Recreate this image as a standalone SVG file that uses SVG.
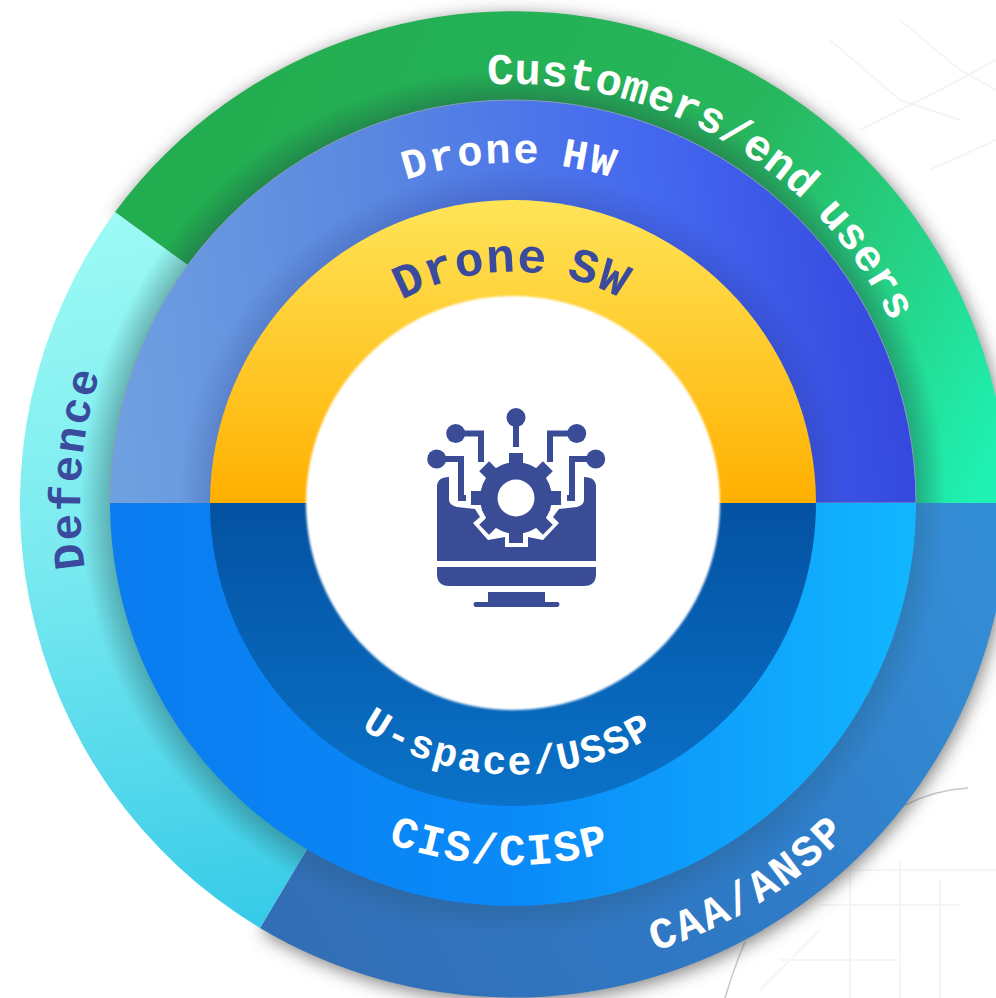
<svg xmlns="http://www.w3.org/2000/svg" width="996" height="998" viewBox="0 0 996 998">
<style>
.lbl{font-family:"Liberation Mono","Courier New",monospace;font-weight:700}
.w{fill:#ffffff}
.n{fill:#3a4a9c}
.ic{fill:#3a4c96}
.wire{fill:none;stroke:#3a4c96;stroke-width:6}
.bg{fill:none;stroke:#f5f5f5;stroke-width:2}
</style>
<defs>
<filter id="soft" x="-20%" y="-20%" width="140%" height="140%"><feGaussianBlur stdDeviation="9"/></filter>
<filter id="edge" x="-5%" y="-5%" width="110%" height="110%"><feGaussianBlur stdDeviation="1"/></filter>
<linearGradient id="gGreen" gradientUnits="userSpaceOnUse" x1="250" y1="100" x2="990" y2="480">
<stop offset="0" stop-color="#22ad50"/><stop offset=".55" stop-color="#27b65c"/><stop offset=".8" stop-color="#25d488"/><stop offset="1" stop-color="#1ff2b4"/></linearGradient>
<linearGradient id="gDef" gradientUnits="userSpaceOnUse" x1="100" y1="220" x2="240" y2="920">
<stop offset="0" stop-color="#9cfaf4"/><stop offset=".45" stop-color="#7aeaf0"/><stop offset="1" stop-color="#38cbe8"/></linearGradient>
<linearGradient id="gCaa" gradientUnits="userSpaceOnUse" x1="300" y1="950" x2="980" y2="560">
<stop offset="0" stop-color="#326eb6"/><stop offset=".6" stop-color="#2f7cc8"/><stop offset="1" stop-color="#348ed6"/></linearGradient>
<linearGradient id="gHw" gradientUnits="userSpaceOnUse" x1="110" y1="400" x2="916" y2="300">
<stop offset="0" stop-color="#6fa0e0"/><stop offset=".35" stop-color="#5a88e0"/><stop offset=".7" stop-color="#4468f0"/><stop offset="1" stop-color="#3345dc"/></linearGradient>
<linearGradient id="gCis" gradientUnits="userSpaceOnUse" x1="110" y1="600" x2="916" y2="600">
<stop offset="0" stop-color="#0a7cf0"/><stop offset=".5" stop-color="#0a8af8"/><stop offset="1" stop-color="#12b6ff"/></linearGradient>
<linearGradient id="gSw" gradientUnits="userSpaceOnUse" x1="0" y1="200" x2="0" y2="503">
<stop offset="0" stop-color="#ffe458"/><stop offset="1" stop-color="#ffb000"/></linearGradient>
<linearGradient id="gUs" gradientUnits="userSpaceOnUse" x1="0" y1="503" x2="0" y2="806">
<stop offset="0" stop-color="#0452a2"/><stop offset="1" stop-color="#0a72c8"/></linearGradient>
<radialGradient id="sh1" gradientUnits="userSpaceOnUse" cx="513" cy="503" r="495">
<stop offset=".814" stop-color="#204040" stop-opacity=".34"/><stop offset=".875" stop-color="#204040" stop-opacity="0"/></radialGradient>
<radialGradient id="sh2" gradientUnits="userSpaceOnUse" cx="513" cy="503" r="403">
<stop offset=".752" stop-color="#202060" stop-opacity=".16"/><stop offset=".83" stop-color="#202060" stop-opacity="0"/></radialGradient>
<path id="pCust" d="M487.6 84.8A419 419 0 0 1 932 503"/>
<path id="pHw" d="M406 180A340 340 0 0 1 853 503"/>
<path id="pSw" d="M402 300A232 232 0 0 1 745 503"/>
<path id="pDef" d="M85 568A433 433 0 0 1 513 70"/>
<path id="pUs" d="M361 728A272 272 0 0 0 785 503"/>
<path id="pCis" d="M388 842.7A362 362 0 0 0 875 503"/>
<path id="pCaa" d="M655 951A470 470 0 0 0 983 503"/>
<rect id="tooth" x="509" y="453" width="14" height="14"/>
</defs>
<rect width="996" height="998" fill="#ffffff"/>
<g id="background">
<path class="bg" d="M830 40L900 100L960 120M860 130L940 90L996 60M900 20L960 70L996 90M930 170L996 140"/>
<path class="bg" d="M800 870H996M820 905H960M850 860V998M900 860V998M940 880V998M780 960H900M760 990L820 930"/>
<path fill="none" stroke="#c8c8c8" stroke-width="1.5" d="M905 805Q935 790 968 788M745 942Q735 965 725 998"/>
</g>
<g id="shadow" filter="url(#soft)" fill="#555555" opacity=".75">
<path d="M513 503L115 212A495 495 0 0 1 1008 503A495 495 0 0 1 260 928Z" transform="translate(2 4)"/>
</g>
<g id="customers">
<path d="M513 503L115 212A495 495 0 0 1 1008 503Z" fill="url(#gGreen)"/>
<path d="M513 503L115 212A495 495 0 0 1 1008 503Z" fill="url(#sh1)"/>
<text class="lbl w" font-size="44" letter-spacing=".1" word-spacing="-7"><textPath href="#pCust">Customers/end users</textPath></text>
</g>
<g id="caa">
<path d="M513 503L1008 503A495 495 0 0 1 260 928Z" fill="url(#gCaa)"/>
<path d="M513 503L1008 503A495 495 0 0 1 260 928Z" fill="url(#sh1)" opacity=".5"/>
<text class="lbl w" font-size="44" letter-spacing="2.2"><textPath href="#pCaa">CAA/ANSP</textPath></text>
</g>
<g id="defence">
<path d="M513 503L260 928A495 495 0 0 1 115 212Z" fill="url(#gDef)"/>
<path d="M513 503L260 928A495 495 0 0 1 115 212Z" fill="url(#sh1)"/>
<text class="lbl n" font-size="44" letter-spacing="2"><textPath href="#pDef">Defence</textPath></text>
</g>
<g id="drone-hw">
<path d="M110 503A403 403 0 0 1 916 503Z" fill="url(#gHw)" stroke="#8a9cc0" stroke-width="1"/>
<path d="M110 503A403 403 0 0 1 916 503Z" fill="url(#sh2)"/>
<text class="lbl w" font-size="42" letter-spacing="2" word-spacing="-7"><textPath href="#pHw">Drone HW</textPath></text>
</g>
<g id="cis">
<path d="M110 503A403 403 0 0 0 916 503Z" fill="url(#gCis)"/>
<text class="lbl w" font-size="44" letter-spacing="2"><textPath href="#pCis">CIS/CISP</textPath></text>
</g>
<g id="drone-sw">
<path d="M210 503A303 303 0 0 1 816 503Z" fill="url(#gSw)"/>
<text class="lbl n" font-size="48" letter-spacing="1" word-spacing="-10"><textPath href="#pSw">Drone SW</textPath></text>
</g>
<g id="uspace">
<path d="M210 503A303 303 0 0 0 816 503Z" fill="url(#gUs)"/>
<text class="lbl w" font-size="40" letter-spacing="2"><textPath href="#pUs">U-space/USSP</textPath></text>
</g>
<g id="center">
<circle cx="513" cy="503" r="207" fill="#ffffff" filter="url(#edge)"/>
<path class="ic" d="M437 487Q437 477 449 477V500Q449 505 457 507L475 509L480 517L473 523L488 540L505 537V547H528V537L543 540L559 523L553 517L559 509L577 507Q584 505 584 500V477Q596 477 596 487V561H437Z"/>
<path class="ic" d="M437 567H596V574Q596 586 584 586H449Q437 586 437 574Z"/>
<path class="ic" d="M488 592H545V602H558Q561 604 558 607H475Q472 604 475 602H488Z"/>
<g class="ic">
<circle cx="516" cy="498" r="36"/>
<use href="#tooth"/>
<use href="#tooth" transform="rotate(45 516 498)"/>
<use href="#tooth" transform="rotate(90 516 498)"/>
<use href="#tooth" transform="rotate(135 516 498)"/>
<use href="#tooth" transform="rotate(180 516 498)"/>
<use href="#tooth" transform="rotate(225 516 498)"/>
<use href="#tooth" transform="rotate(270 516 498)"/>
<use href="#tooth" transform="rotate(315 516 498)"/>
</g>
<circle cx="516" cy="498" r="18.5" fill="#ffffff"/>
<circle class="ic" cx="516" cy="417.5" r="9.5"/>
<circle class="ic" cx="455.7" cy="433.5" r="9.5"/>
<circle class="ic" cx="436.7" cy="459" r="9.5"/>
<circle class="ic" cx="576.7" cy="433.5" r="9.5"/>
<circle class="ic" cx="595.7" cy="459" r="9.5"/>
<path class="wire" d="M516 420V447M456 433.5H481V462M437 459H461V498H466M577 433.5H550V462M596 459H572V498H567"/>
</g>
</svg>
